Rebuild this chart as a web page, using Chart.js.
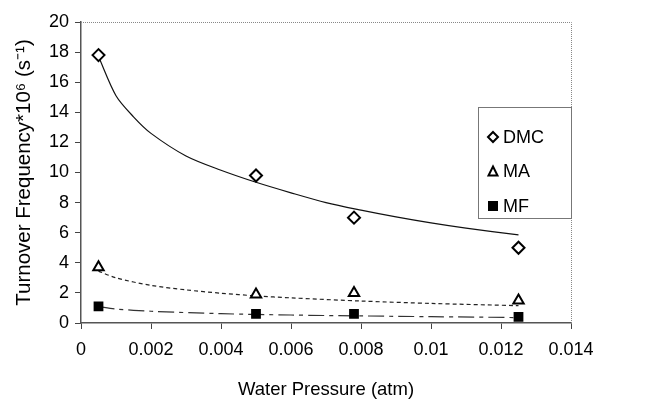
<!DOCTYPE html>
<html>
<head>
<meta charset="utf-8">
<title>Turnover Frequency vs Water Pressure</title>
<script src="https://cdn.jsdelivr.net/npm/chart.js@4.4.0/dist/chart.umd.min.js"></script>
<style>
  html, body { margin: 0; padding: 0; background: #fff; }
  #wrap { width: 652px; height: 401px; position: relative; }
</style>
</head>
<body>
<div id="wrap"><canvas id="tofChart" width="652" height="401"></canvas></div>
<script>
// --- measured points ---
const pressure = [0.0005, 0.0050, 0.0078, 0.0125];
const dmcTof = [17.8, 9.8, 7.0, 5.0];
const maTof = [3.7, 1.9, 2.0, 1.5];
const mfTof = [1.1, 0.6, 0.6, 0.4];

// --- trend lines ---
const dmcFitX = [0.0005, 0.001, 0.0015, 0.002, 0.003, 0.004, 0.005, 0.006, 0.007, 0.008, 0.009, 0.010, 0.011, 0.0125];
const dmcFitY = [17.7, 15.1, 13.7, 12.6, 11.1, 10.15, 9.35, 8.65, 8.0, 7.5, 7.05, 6.65, 6.3, 5.85];
const maFitX = [0.0005, 0.001, 0.002, 0.003, 0.004, 0.005, 0.006, 0.008, 0.010, 0.0125];
const maFitY = [3.45, 3.0, 2.5, 2.2, 1.98, 1.8, 1.67, 1.46, 1.3, 1.15];
const mfFitX = [0.0005, 0.001, 0.002, 0.004, 0.006, 0.008, 0.010, 0.0125];
const mfFitY = [1.09, 0.93, 0.78, 0.62, 0.53, 0.47, 0.42, 0.36];

const xTicks = [0, 0.002, 0.004, 0.006, 0.008, 0.01, 0.012, 0.014];
const yTicks = [0, 2, 4, 6, 8, 10, 12, 14, 16, 18, 20];

const FONT = "'Liberation Sans', Arial, sans-serif";

function toPoints(xs, ys) {
  return xs.map((x, i) => ({ x: x, y: ys[i] }));
}

// legend drawn inside the plot, like the Excel one
const boxLegend = {
  id: "boxLegend",
  afterDraw(chart) {
    const ctx = chart.ctx;
    const left = 478, top = 107, w = 93, h = 111;
    ctx.save();
    ctx.fillStyle = "#fff";
    ctx.fillRect(left, top, w, h);
    ctx.strokeStyle = "#777";
    ctx.lineWidth = 1;
    ctx.strokeRect(left + 0.5, top + 0.5, w, h);
    ctx.font = "18px " + FONT;
    ctx.textBaseline = "middle";
    const markers = chart.data.datasets.filter(d => d.inLegend);
    markers.forEach((d, i) => {
      const cy = top + 30 + i * 34.5;
      const mx = left + 15;
      ctx.lineWidth = 2;
      ctx.strokeStyle = "#000";
      ctx.fillStyle = d.pointBackgroundColor;
      ctx.beginPath();
      if (d.pointStyle === "rectRot") {
        ctx.moveTo(mx, cy - 5); ctx.lineTo(mx + 5, cy); ctx.lineTo(mx, cy + 5); ctx.lineTo(mx - 5, cy); ctx.closePath();
      } else if (d.pointStyle === "triangle") {
        ctx.moveTo(mx, cy - 5); ctx.lineTo(mx + 4.5, cy + 4); ctx.lineTo(mx - 4.5, cy + 4); ctx.closePath();
      } else {
        ctx.rect(mx - 4, cy - 4, 8, 8);
      }
      ctx.fill();
      ctx.stroke();
      ctx.fillStyle = "#000";
      ctx.fillText(d.label, mx + 10, cy + 1);
    });
    ctx.restore();
  }
};

// dotted top and right edges of the plot area
const plotFrame = {
  id: "plotFrame",
  beforeDatasetsDraw(chart) {
    const { ctx, chartArea } = chart;
    ctx.save();
    ctx.strokeStyle = "#888";
    ctx.lineWidth = 1;
    ctx.setLineDash([1, 1]);
    ctx.beginPath();
    ctx.moveTo(chartArea.left, chartArea.top + 0.5);
    ctx.lineTo(chartArea.right + 0.5, chartArea.top + 0.5);
    ctx.lineTo(chartArea.right + 0.5, chartArea.bottom);
    ctx.stroke();
    ctx.restore();
  }
};

function markerSet(label, data, style, fill, radius) {
  return {
    label: label,
    data: data,
    inLegend: true,
    showLine: false,
    pointStyle: style,
    pointRadius: radius,
    pointBorderWidth: 2,
    pointBorderColor: "#000",
    pointBackgroundColor: fill,
    order: 0
  };
}

function fitSet(label, data, dash, color) {
  return {
    label: label,
    data: data,
    showLine: true,
    pointRadius: 0,
    borderColor: color,
    borderWidth: 1.2,
    borderDash: dash,
    tension: 0.3,
    order: 1
  };
}

new Chart(document.getElementById("tofChart"), {
  type: "scatter",
  data: {
    datasets: [
      markerSet("DMC", toPoints(pressure, dmcTof), "rectRot", "#fff", 6),
      markerSet("MA", toPoints(pressure, maTof), "triangle", "#fff", 6),
      markerSet("MF", toPoints(pressure, mfTof), "rect", "#000", 5.5),
      fitSet("DMC fit", toPoints(dmcFitX, dmcFitY), [], "#111"),
      fitSet("MA fit", toPoints(maFitX, maFitY), [4, 3], "#222"),
      fitSet("MF fit", toPoints(mfFitX, mfFitY), [16, 5, 4, 5], "#333")
    ]
  },
  options: {
    responsive: false,
    animation: false,
    layout: { padding: { top: 22, right: 81, left: 12, bottom: 0 } },
    plugins: {
      legend: { display: false },
      tooltip: { enabled: false }
    },
    scales: {
      x: {
        type: "linear",
        min: 0,
        max: 0.014,
        afterBuildTicks: axis => { axis.ticks = xTicks.map(v => ({ value: v })); },
        afterFit: axis => { axis.height = 78; },
        ticks: {
          color: "#000",
          font: { family: FONT, size: 18 },
          padding: 10,
          maxRotation: 0,
          callback: v => String(Number(v.toFixed(3)))
        },
        grid: { drawOnChartArea: false, tickLength: 6, color: "#444" },
        border: { color: "#555", width: 1.5 },
        title: {
          display: true,
          text: "Water Pressure (atm)",
          color: "#000",
          font: { family: FONT, size: 18.5 },
          padding: { top: 10, bottom: 0 }
        }
      },
      y: {
        min: 0,
        max: 20,
        afterBuildTicks: axis => { axis.ticks = yTicks.map(v => ({ value: v })); },
        afterFit: axis => { axis.width = 69; },
        ticks: {
          color: "#000",
          font: { family: FONT, size: 18 },
          padding: 6
        },
        grid: { drawOnChartArea: false, tickLength: 6, color: "#444" },
        border: { color: "#555", width: 1.5 },
        title: {
          display: true,
          text: "Turnover Frequency*10\u2076 (s\u207B\u00B9)",
          color: "#000",
          font: { family: FONT, size: 20.5 },
          padding: { top: 0, bottom: 2 }
        }
      }
    }
  },
  plugins: [plotFrame, boxLegend]
});
</script>
</body>
</html>
